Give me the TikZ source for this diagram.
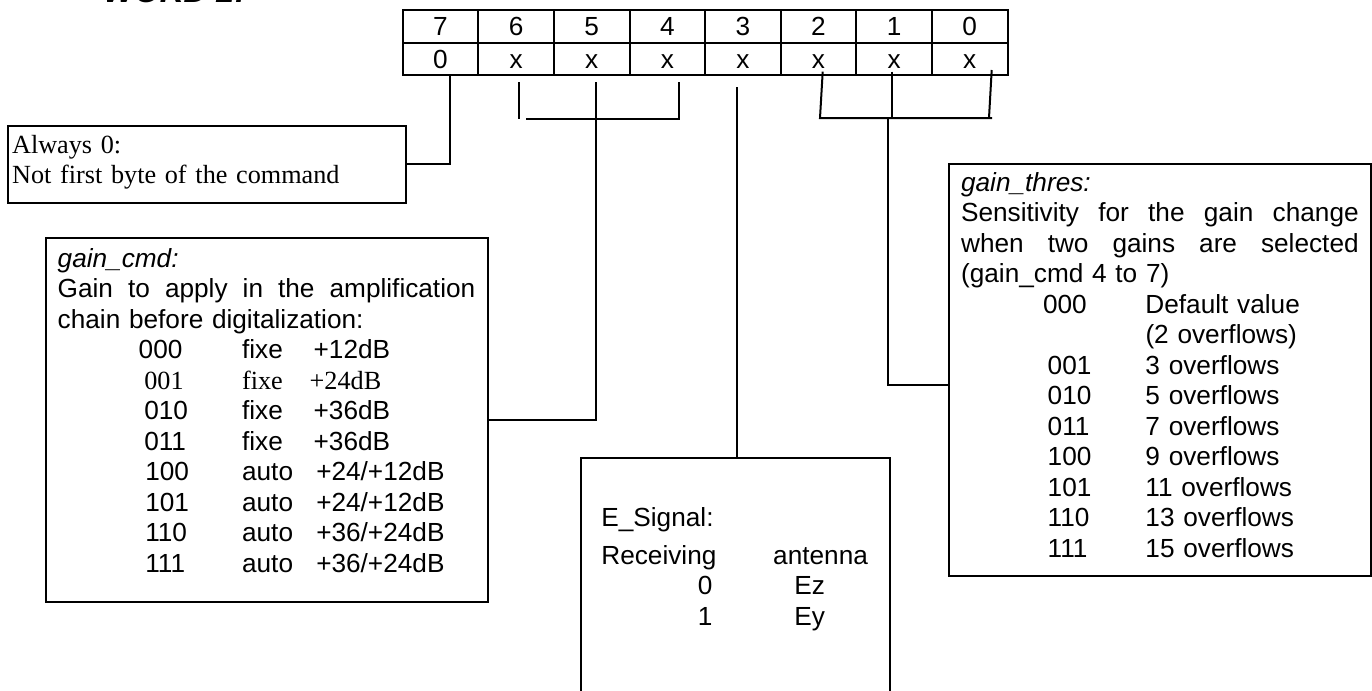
\documentclass[tikz,border=0pt]{standalone}
\usepackage{fontspec}
\setmainfont{Liberation Serif}
\setsansfont{Liberation Sans}
\usepackage{tikz}
\usetikzlibrary{positioning}

\newcommand{\colat}[2]{\makebox[0pt][l]{\hspace*{#1}#2}}
\newcommand{\justline}[2]{\makebox[#1][s]{\spaceskip=0pt\xspaceskip=0pt\relax #2}}
\newcommand{\sansbody}{\sffamily\fontsize{13.1}{15.25}\selectfont}
\newcommand{\serifbody}{\rmfamily\fontsize{13.1}{15}\selectfont}

\begin{document}
\begin{tikzpicture}[x=0.5pt, y=-0.5pt,
            cell/.style ={draw, line width=1pt, minimum width=37.8pt, minimum height=16.35pt,
                          inner sep=0pt, font=\sansbody, text height=9.4pt, text depth=0pt},
            box/.style  ={draw, line width=1pt, inner sep=0pt, anchor=north west},
            txt/.style  ={anchor=base west, inner sep=0pt, align=left, font=\sansbody},
            conn/.style ={line width=1pt}
        ]
            \useasboundingbox (0,0) rectangle (1372,691);

            \node[anchor=base west, inner sep=0pt,
                  font=\sffamily\bfseries\itshape\fontsize{16.4}{19}\selectfont] (title) at (103,2.5) {WORD 2:};

            \foreach \b/\v [count=\i from 0] in {7/0,6/x,5/x,4/x,3/x,2/x,1/x,0/x} {
                \node[cell] (h\b) at ({440.5+75.6*\i},26.3) {\b};
                \node[cell] (v\b) at ({440.5+75.6*\i},59)   {\v};
            }

            \node[box, minimum width=199.2pt, minimum height=38.3pt]  (always) at (6.7,125)   {};
            \node[box, minimum width=221.2pt, minimum height=181.8pt] (gcmd)   at (45,237.3)  {};
            \node[box, minimum width=154.7pt, minimum height=131.3pt] (esig)   at (580,457.3) {};
            \node[box, minimum width=210.8pt, minimum height=206.2pt] (gthres) at (948.3,162.7) {};

            \node[txt, font=\serifbody, text width=195pt] (alwaystxt) at (11.7,153.3)
                {Always 0:\\ Not first byte of the command};

            \node[txt, text width=215pt] (gcmdtxt) at (57.3,267) {\textit{gain\_cmd:}\\
                \justline{208.8pt}{Gain to apply in the amplification}\\
                chain before digitalization:\\
                \colat{40.5pt}{000}\colat{92.2pt}{fixe}\colat{128pt}{+12dB}\\
                {\rmfamily\colat{43.3pt}{001}\colat{92.2pt}{fixe}\colat{126pt}{+24dB}}\\
                \colat{43.3pt}{010}\colat{92.2pt}{fixe}\colat{128pt}{+36dB}\\
                \colat{43.3pt}{011}\colat{92.2pt}{fixe}\colat{128pt}{+36dB}\\
                \colat{43.8pt}{100}\colat{92.2pt}{auto}\colat{129.3pt}{+24/+12dB}\\
                \colat{43.8pt}{101}\colat{92.2pt}{auto}\colat{129.3pt}{+24/+12dB}\\
                \colat{43.8pt}{110}\colat{92.2pt}{auto}\colat{129.3pt}{+36/+24dB}\\
                \colat{43.8pt}{111}\colat{92.2pt}{auto}\colat{129.3pt}{+36/+24dB}};

            \node[txt, text width=150pt] (esigtxt) at (601,526) {E\_Signal:\\[3.75pt]
                \justline{133.3pt}{Receiving antenna}\\
                \colat{48.2pt}{0}\colat{96.5pt}{Ez}\\
                \colat{48.2pt}{1}\colat{96.5pt}{Ey}};

            \node[txt, text width=205pt] (gthrestxt) at (960.7,191) {\textit{gain\_thres:}\\
                \justline{198.8pt}{Sensitivity for the gain change}\\
                \justline{198.8pt}{when two gains are selected}\\
                (gain\_cmd 4 to 7)\\
                \colat{41pt}{000}\colat{92.2pt}{Default value}\\
                \colat{92.2pt}{(2 overflows)}\\
                \colat{43.3pt}{001}\colat{92.2pt}{3 overflows}\\
                \colat{43.3pt}{010}\colat{92.2pt}{5 overflows}\\
                \colat{43.3pt}{011}\colat{92.2pt}{7 overflows}\\
                \colat{43.3pt}{100}\colat{92.2pt}{9 overflows}\\
                \colat{43.3pt}{101}\colat{92.2pt}{11 overflows}\\
                \colat{43.3pt}{110}\colat{92.2pt}{13 overflows}\\
                \colat{43.3pt}{111}\colat{92.2pt}{15 overflows}};

            \coordinate (t7) at (450,75);
            \coordinate (t6) at (519,82);
            \coordinate (t5) at (596,82);
            \coordinate (t4) at (679,82);
            \coordinate (bk) at (526,119);
            \coordinate (t3) at (737,87);
            \coordinate (t2) at (822.7,71.7);
            \coordinate (t1) at (891.7,71.7);
            \coordinate (t0) at (991.7,70);
            \coordinate (b2) at (820,118);
            \coordinate (b0) at (989,118);
            \coordinate (be) at (992,118);
            \coordinate (g1) at (888,118);
            \coordinate (g2) at (888,385);

            \draw[conn] (t7) |- (always.east);
            \draw[conn] (t6) -- (t6 |- bk);
            \draw[conn] (bk) -| (t4);
            \draw[conn] (t5) |- (gcmd.east);
            \draw[conn] (t3) -- (t3 |- esig.north);
            \draw[conn] (t2) -- (b2) -- (be);
            \draw[conn] (t1) -- (t1 |- b2);
            \draw[conn] (t0) -- (b0);
            \draw[conn] (g1) -- (g2) -- (g2 -| gthres.west);

        \end{tikzpicture}
\end{document}
